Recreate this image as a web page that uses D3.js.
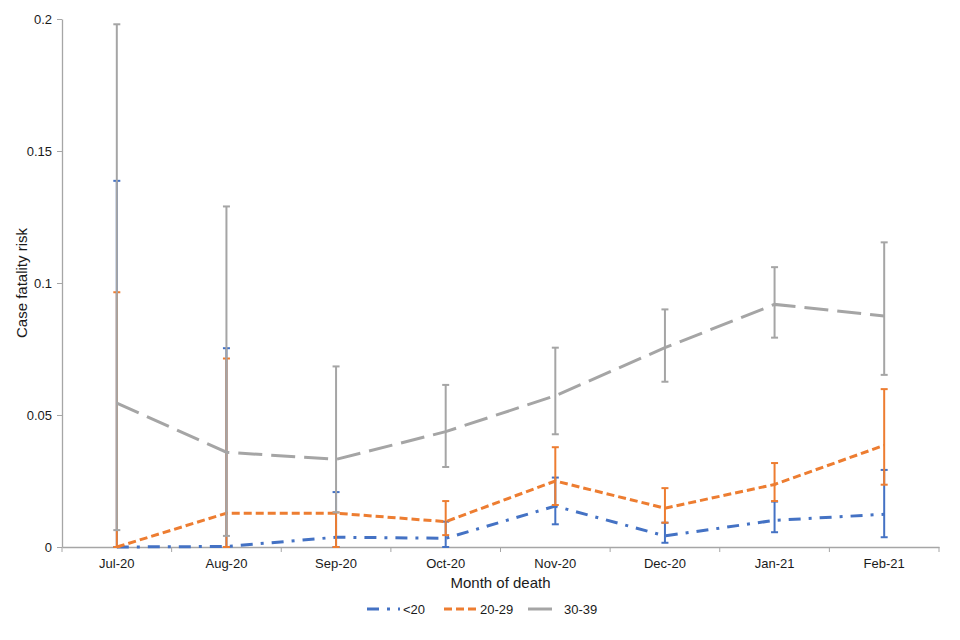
<!DOCTYPE html>
<html>
<head>
<meta charset="utf-8">
<script src="https://cdn.jsdelivr.net/npm/d3@7"></script>
<style>
  body { margin: 0; background: #fff; }
  text { font-family: "Liberation Sans", Arial, sans-serif; }
</style>
</head>
<body>
<svg id="chart" width="960" height="640"></svg>
<script>
// months and values
var months = ["Jul-20", "Aug-20", "Sep-20", "Oct-20", "Nov-20", "Dec-20", "Jan-21", "Feb-21"];
var yTicks = [0, 0.05, 0.1, 0.15, 0.2];

var under20     = [0, 0.0002, 0.0037, 0.0033, 0.0155, 0.0042, 0.0101, 0.0124];
var under20Low  = [0, 0, 0, 0, 0.0086, 0.0016, 0.0056, 0.0037];
var under20High = [0.1387, 0.0753, 0.0208, 0.0096, 0.0263, 0.0092, 0.0172, 0.0292];

var age2029     = [0, 0.0128, 0.0128, 0.0096, 0.0250, 0.0147, 0.0237, 0.0385];
var age2029Low  = [0, 0, 0, 0.0045, 0.0159, 0.0092, 0.0174, 0.0236];
var age2029High = [0.0965, 0.0714, 0.0131, 0.0174, 0.0378, 0.0223, 0.0318, 0.0598];

var age3039     = [0.0545, 0.0359, 0.0332, 0.0437, 0.0573, 0.0755, 0.0919, 0.0875];
var age3039Low  = [0.0064, 0.0042, 0.0131, 0.0303, 0.0427, 0.0626, 0.0793, 0.0652];
var age3039High = [0.198, 0.129, 0.0684, 0.0614, 0.0755, 0.0900, 0.1060, 0.1154];

var series = [
  {name: "<20", vals: under20, lo: under20Low, hi: under20High, color: "#4472c4", dash: "12,8,3,8"},
  {name: "20-29", vals: age2029, lo: age2029Low, hi: age2029High, color: "#ed7d31", dash: "8,4"},
  {name: "30-39", vals: age3039, lo: age3039Low, hi: age3039High, color: "#a5a5a5", dash: "24,9"}
];

var svg = d3.select("#chart");
var plotL = 62, plotR = 939, plotT = 19, plotB = 547;

var x = d3.scaleBand().domain(months).range([plotL, plotR]).padding(0);
var y = d3.scaleLinear().domain([0, 0.2]).range([plotB, plotT]);
var cx = function(i) { return x(months[i]) + x.bandwidth() / 2; };

// y axis
var yAxis = svg.append("g")
  .attr("transform", "translate(" + plotL + ",0)")
  .call(d3.axisLeft(y).tickValues(yTicks).tickFormat(function(d) { return String(d); })
    .tickSize(5).tickSizeOuter(0).tickPadding(5));
yAxis.select(".domain").attr("stroke", "#a6a6a6").attr("stroke-width", 1.3);
yAxis.selectAll(".tick line").attr("stroke", "#a6a6a6");
yAxis.selectAll(".tick text").attr("font-size", 13).attr("fill", "#1a1a1a")
  .attr("font-family", "Liberation Sans, Arial, sans-serif");

// x axis
var xAxis = svg.append("g")
  .attr("transform", "translate(0," + plotB + ")")
  .call(d3.axisBottom(x).tickSize(0).tickPadding(12).tickSizeOuter(0));
xAxis.select(".domain").attr("stroke", "#a6a6a6").attr("stroke-width", 1.3);
xAxis.selectAll(".tick text").attr("font-size", 13).attr("fill", "#1a1a1a")
  .attr("font-family", "Liberation Sans, Arial, sans-serif");
var bounds = months.map(function(m) { return x(m); }).concat([plotR]);
xAxis.selectAll(".bound").data(bounds).join("line")
  .attr("x1", function(d) { return d; }).attr("x2", function(d) { return d; })
  .attr("y1", 0).attr("y2", 5).attr("stroke", "#a6a6a6");

// axis titles
svg.append("text").attr("x", (plotL + plotR) / 2).attr("y", 588)
  .attr("text-anchor", "middle").attr("font-size", 15).attr("fill", "#1a1a1a")
  .text("Month of death");
svg.append("text").attr("transform", "translate(27," + (plotT + plotB) / 2 + ") rotate(-90)")
  .attr("text-anchor", "middle").attr("font-size", 15).attr("fill", "#1a1a1a")
  .text("Case fatality risk");

var line = d3.line()
  .x(function(d, i) { return cx(i); })
  .y(function(d) { return y(d); });

series.forEach(function(s) {
  svg.append("path")
    .attr("d", line(s.vals))
    .attr("fill", "none")
    .attr("stroke", s.color)
    .attr("stroke-width", 3)
    .attr("stroke-dasharray", s.dash);

  var g = svg.append("g").attr("stroke", s.color).attr("stroke-width", 2);
  g.selectAll(".bar").data(s.vals).join("line")
    .attr("x1", function(d, i) { return cx(i); })
    .attr("x2", function(d, i) { return cx(i); })
    .attr("y1", function(d, i) { return y(s.lo[i]); })
    .attr("y2", function(d, i) { return y(s.hi[i]); });
  ["lo", "hi"].forEach(function(k) {
    g.selectAll(".cap-" + k).data(s[k]).join("line")
      .attr("x1", function(d, i) { return cx(i) - 3.5; })
      .attr("x2", function(d, i) { return cx(i) + 3.5; })
      .attr("y1", function(d) { return y(d); })
      .attr("y2", function(d) { return y(d); });
  });
});

// legend
var legendX = [367, 444, 528];
var lg = svg.append("g").attr("transform", "translate(0,609)");
series.forEach(function(s, i) {
  lg.append("line")
    .attr("x1", legendX[i]).attr("x2", legendX[i] + 33)
    .attr("y1", 0).attr("y2", 0)
    .attr("stroke", s.color).attr("stroke-width", 3)
    .attr("stroke-dasharray", s.dash);
  lg.append("text")
    .attr("x", legendX[i] + 36).attr("y", 0).attr("dy", "0.35em")
    .attr("font-size", 13).attr("fill", "#1a1a1a")
    .text(s.name);
});
</script>
</body>
</html>
